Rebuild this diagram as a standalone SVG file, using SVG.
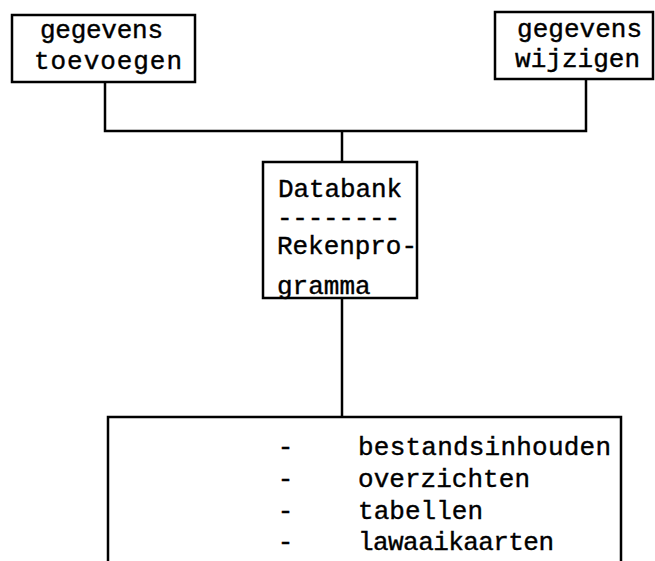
<svg xmlns="http://www.w3.org/2000/svg" width="655" height="561" viewBox="0 0 655 561">
<style>
.box{fill:#fff;stroke:#000;stroke-width:2.5}
.ln{fill:none;stroke:#000;stroke-width:2.5}
.t{font-family:"Liberation Mono","DejaVu Sans Mono",monospace;font-size:26px;fill:#000;stroke:#000;stroke-width:0.4}
</style>
<rect width="655" height="561" fill="#fff"/>
<g id="connectors">
<path class="ln" d="M105,82 V131 H586 V79"/>
<path class="ln" d="M342,131 V162"/>
<path class="ln" d="M342,298 V417"/>
</g>
<g id="node-toevoegen">
<rect class="box" x="12" y="15" width="183" height="67"/>
<text class="t" x="40" y="38" textLength="123" lengthAdjust="spacing">gegevens</text>
<text class="t" x="34" y="69" textLength="148" lengthAdjust="spacing">toevoegen</text>
</g>
<g id="node-wijzigen">
<rect class="box" x="495" y="12" width="158" height="67"/>
<text class="t" x="517" y="37" textLength="125" lengthAdjust="spacing">gegevens</text>
<text class="t" x="515" y="67" textLength="125" lengthAdjust="spacing">wijzigen</text>
</g>
<g id="node-databank">
<rect class="box" x="263" y="162" width="154" height="136"/>
<text class="t" x="278" y="197" textLength="124" lengthAdjust="spacing">Databank</text>
<text class="t" x="277" y="226" textLength="123" lengthAdjust="spacing">--------</text>
<text class="t" x="277" y="254" textLength="140" lengthAdjust="spacing">Rekenpro-</text>
<text class="t" x="277" y="294">gramma</text>
</g>
<g id="node-output">
<path class="ln" d="M108,561 V417 H621 V561"/>
<text class="t" x="285.5" y="455" text-anchor="middle">-</text>
<text class="t" x="285.5" y="487" text-anchor="middle">-</text>
<text class="t" x="285.5" y="519" text-anchor="middle">-</text>
<text class="t" x="285.5" y="550" text-anchor="middle">-</text>
<text class="t" x="358" y="455" textLength="253" lengthAdjust="spacing">bestandsinhouden</text>
<text class="t" x="358" y="487" textLength="172" lengthAdjust="spacing">overzichten</text>
<text class="t" x="358" y="519" textLength="125" lengthAdjust="spacing">tabellen</text>
<text class="t" x="358" y="550" textLength="196" lengthAdjust="spacing">lawaaikaarten</text>
</g>
</svg>
